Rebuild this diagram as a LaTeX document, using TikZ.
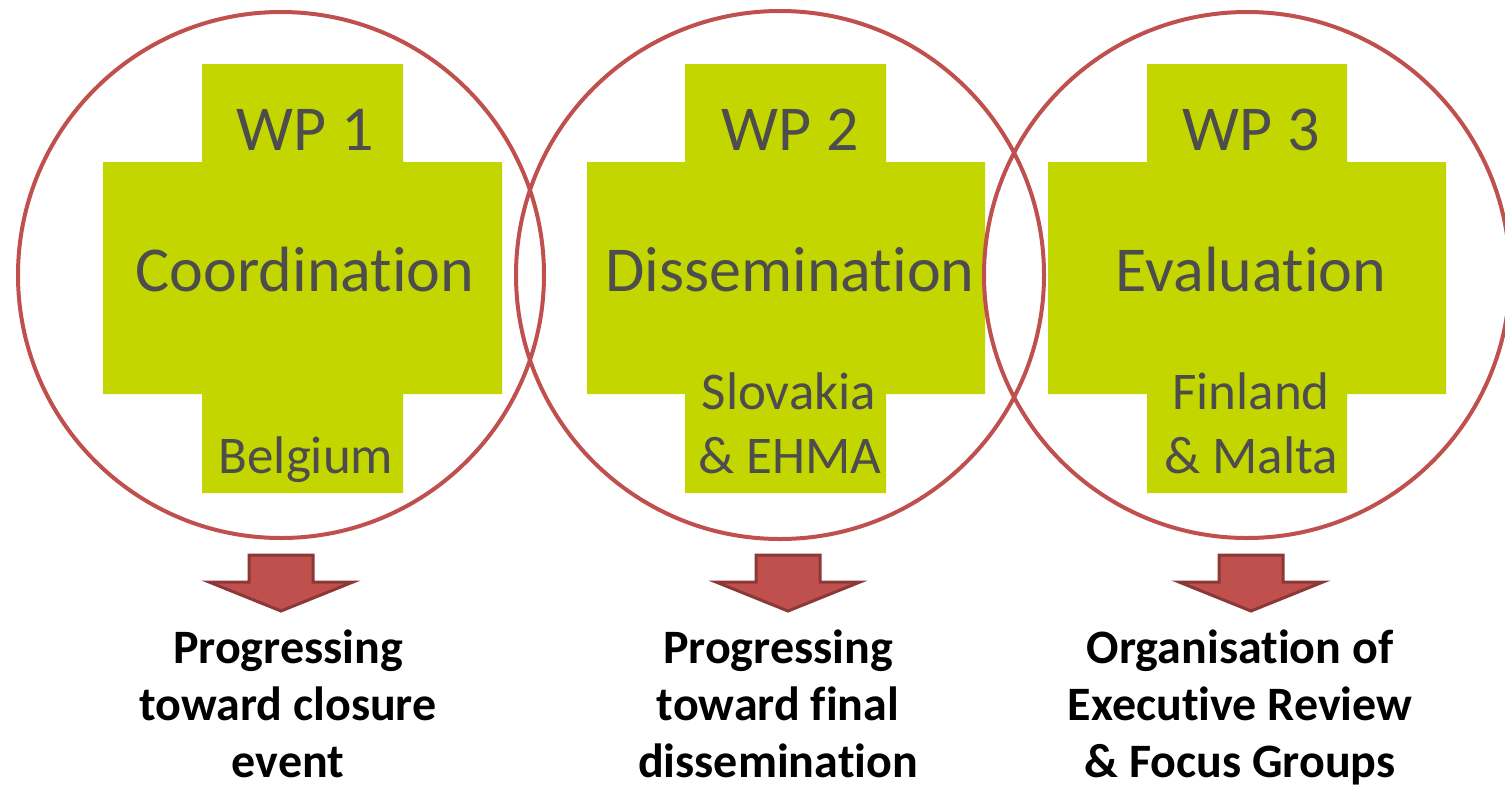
\documentclass[tikz,border=0pt]{standalone}
\usepackage{fontspec}
\setmainfont[Ligatures={NoCommon}]{Carlito}
\definecolor{ringred}{HTML}{C0504D}
\definecolor{arrowedge}{HTML}{8C3836}
\definecolor{lime}{HTML}{C4D600}
\definecolor{txtgray}{HTML}{4D4D4D}
\begin{document}
\begin{tikzpicture}[x=1pt,y=-1pt,
  ring/.style={draw=ringred,line width=4pt},
  crossfill/.style={fill=lime},
  bigtxt/.style={anchor=base,text=txtgray,font=\fontsize{64}{70}\selectfont,inner sep=0pt},
  smalltxt/.style={anchor=base,text=txtgray,font=\fontsize{53}{60}\selectfont,inner sep=0pt},
  outtxt/.style={anchor=base,text=black,font=\bfseries\fontsize{48}{54}\selectfont,inner sep=0pt},
  downarrow/.style={fill=ringred,draw=arrowedge,line width=3pt,line join=miter}]
\useasboundingbox (0,0) rectangle (1505,785);
\fill[white] (0,0) rectangle (1505,785);
% crosses
\fill[crossfill] (202,64) -- (403,64) -- (403,162) -- (502,162) -- (502,394) -- (403,394) -- (403,493) -- (202,493) -- (202,394) -- (103,394) -- (103,162) -- (202,162) -- cycle;
\fill[crossfill] (685,64) -- (886,64) -- (886,162) -- (985,162) -- (985,394) -- (886,394) -- (886,493) -- (685,493) -- (685,394) -- (587,394) -- (587,162) -- (685,162) -- cycle;
\fill[crossfill] (1147,64) -- (1347,64) -- (1347,162) -- (1446,162) -- (1446,394) -- (1347,394) -- (1347,493) -- (1147,493) -- (1147,394) -- (1048,394) -- (1048,162) -- (1147,162) -- cycle;
% circles
\draw[ring] (281,275) circle (263);
\draw[ring] (780,275) circle (264);
\draw[ring] (1247,275) circle (263);
% inner texts
\node[bigtxt] (wp1) at (305,150) {WP 1};
\node[bigtxt] (coord) at (305,291) {Coordination};
\node[smalltxt] (belg) at (306,473) {Belgium};
\node[bigtxt] (wp2) at (790,150) {WP 2};
\node[bigtxt] (diss) at (790,291) {Dissemination};
\node[smalltxt] (slov) at (789,409) {Slovakia};
\node[smalltxt] (ehma) at (790,473) {\& EHMA};
\node[bigtxt] (wp3) at (1251,150) {WP 3};
\node[bigtxt] (eval) at (1251,291) {Evaluation};
\node[smalltxt] (finl) at (1251,409) {Finland};
\node[smalltxt] (malta) at (1251,473) {\& Malta};
% arrows
\foreach \c in {281,788,1251}{
  \draw[downarrow] (\c-32,555) -- (\c+32,555) -- (\c+32,582) -- (\c+72,582) -- (\c,611) -- (\c-72,582) -- (\c-32,582) -- cycle;
}
% outcome texts
\node[outtxt] (o1a) at (288,663) {Progressing};
\node[outtxt] (o1b) at (288,720) {toward closure};
\node[outtxt] (o1c) at (288,777) {event};
\node[outtxt] (o2a) at (778,663) {Progressing};
\node[outtxt] (o2b) at (778,720) {toward final};
\node[outtxt] (o2c) at (778,777) {dissemination};
\node[outtxt] (o3a) at (1240,663) {Organisation of};
\node[outtxt] (o3b) at (1240,720) {Executive Review};
\node[outtxt] (o3c) at (1240,777) {\& Focus Groups};
\end{tikzpicture}
\end{document}
